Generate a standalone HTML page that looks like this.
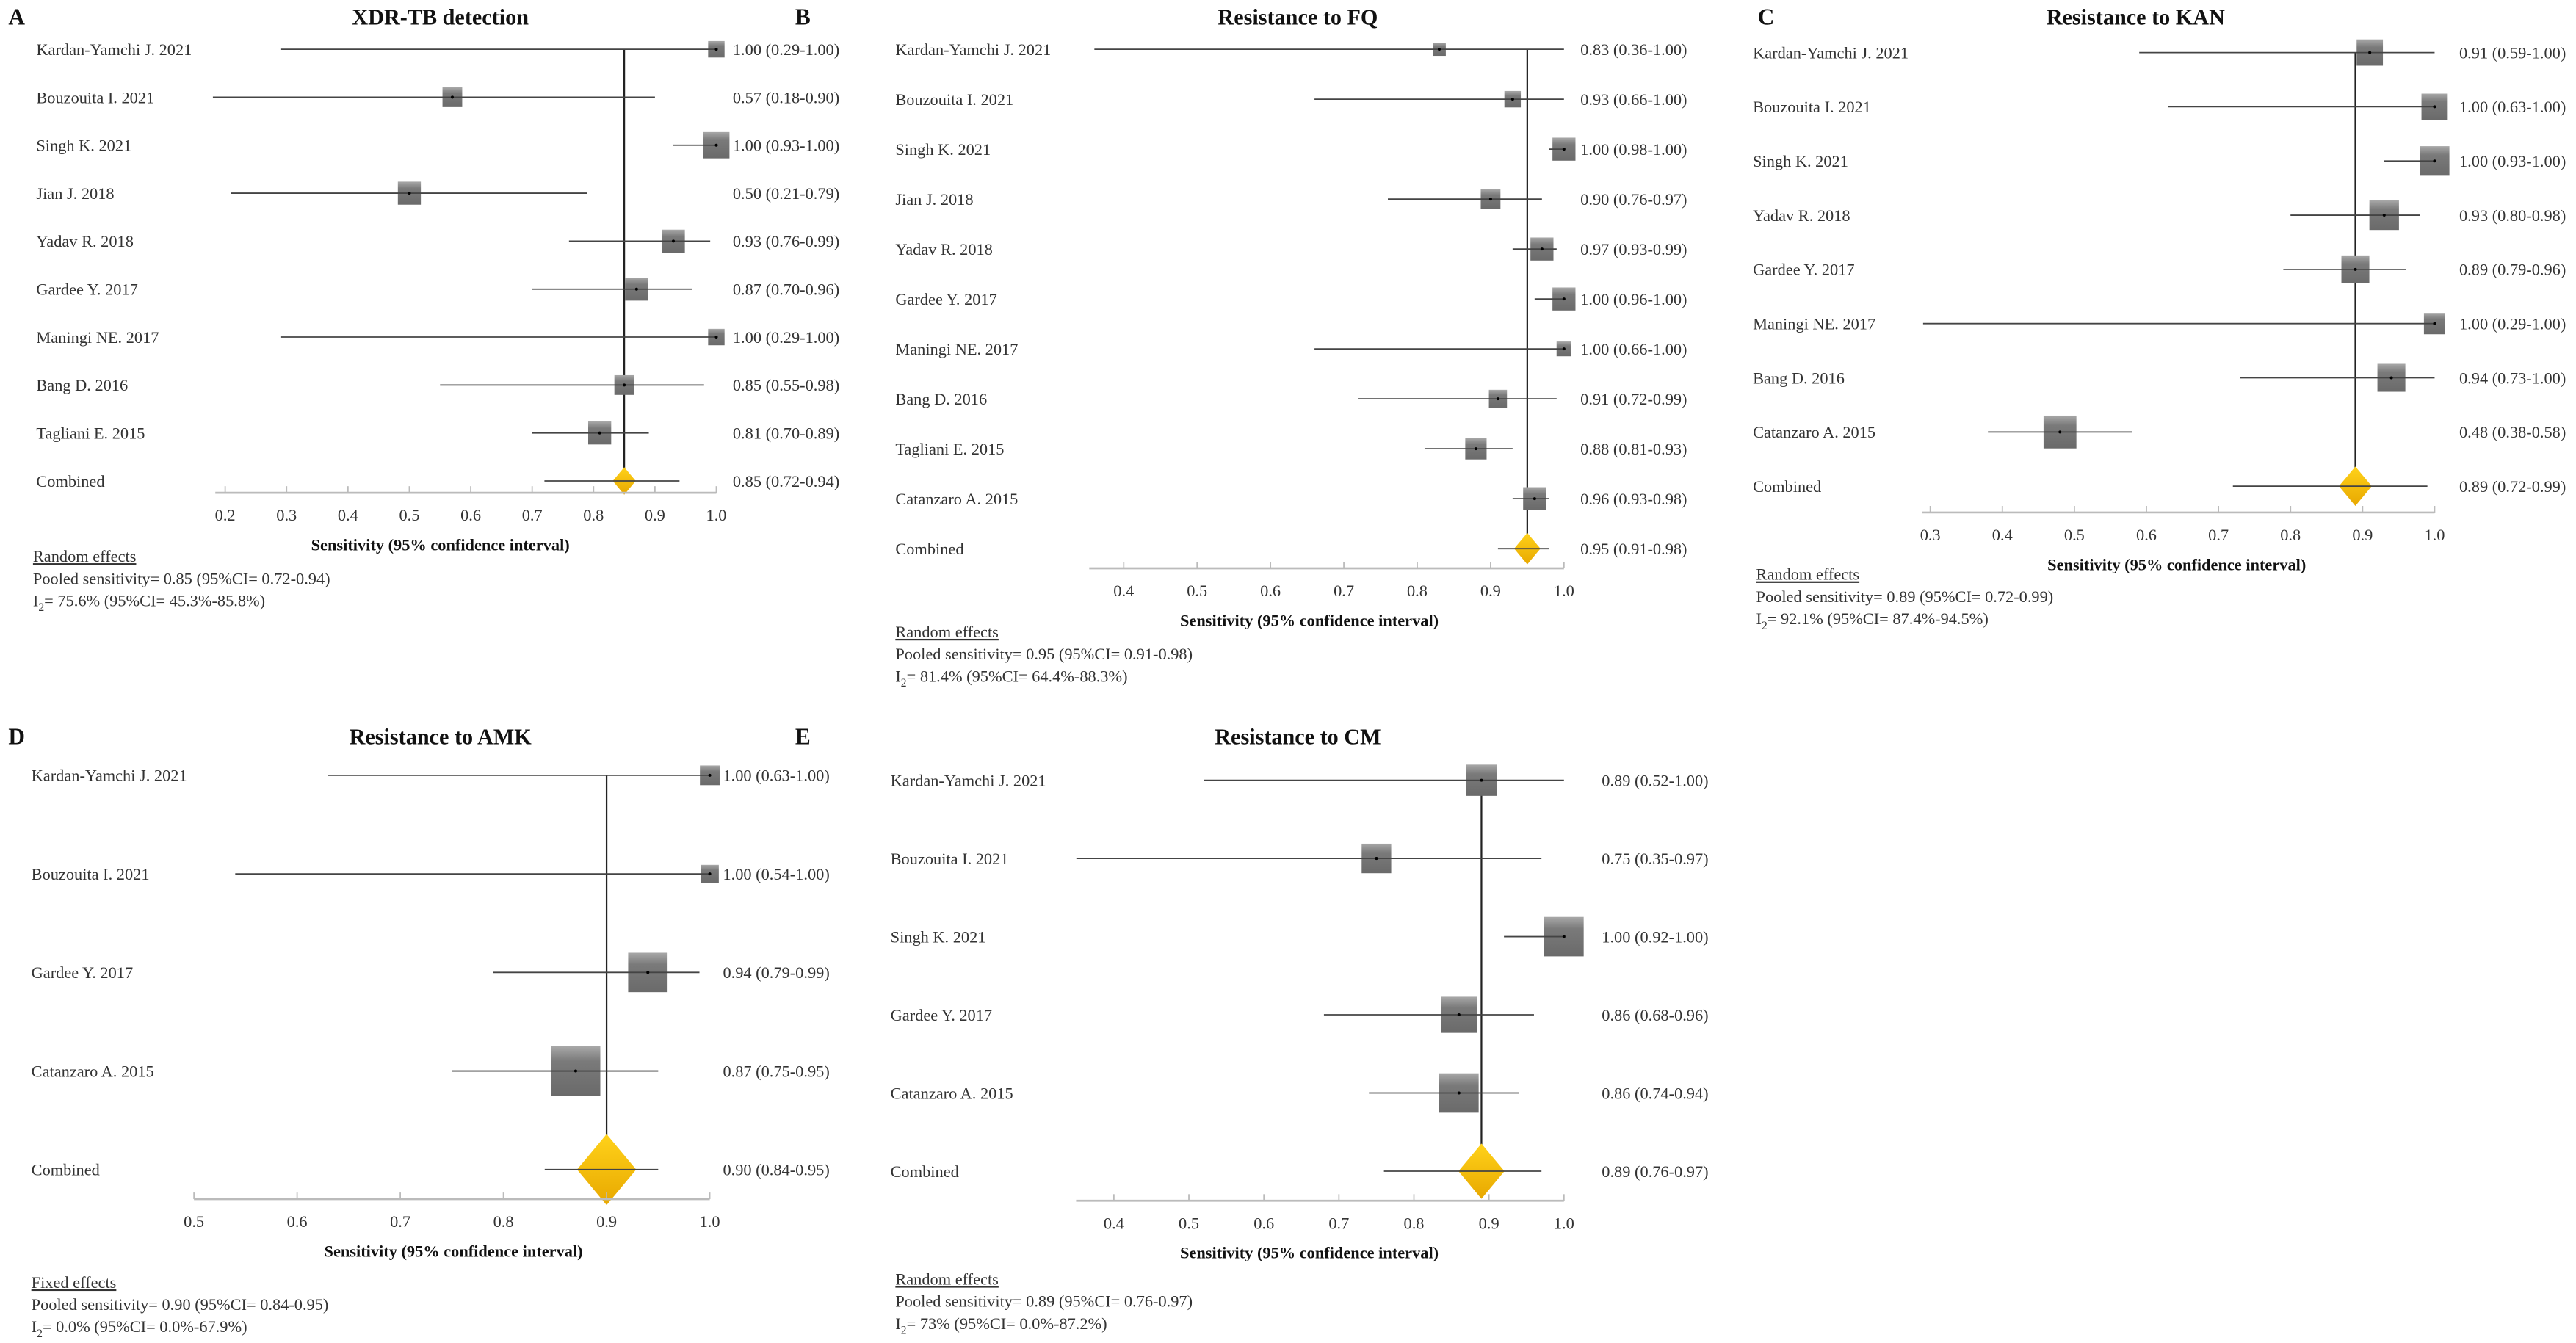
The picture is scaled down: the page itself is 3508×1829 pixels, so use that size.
<!DOCTYPE html>
<html><head><meta charset="utf-8">
<style>
html,body{margin:0;padding:0;background:#fff;}
svg{display:block;}
text{font-family:"Liberation Serif",serif;fill:#333;}
.b{font-weight:bold;fill:#111;}
</style></head>
<body>
<svg id="fig" width="3508" height="1829" viewBox="0 0 1568 817.6" xmlns="http://www.w3.org/2000/svg">
<defs>
<linearGradient id="sq" x1="0" y1="0" x2="0" y2="1">
<stop offset="0" stop-color="#a8a8a8"/><stop offset="0.3" stop-color="#7a7a7a"/><stop offset="1" stop-color="#6a6a6a"/>
</linearGradient>
<linearGradient id="dm" x1="0" y1="0" x2="0" y2="1">
<stop offset="0" stop-color="#ffd21a"/><stop offset="1" stop-color="#e8a800"/>
</linearGradient>
</defs>
</svg>
<script>
// ---- Panel A: XDR-TB detection ----
const aStudies = ["Kardan-Yamchi J. 2021","Bouzouita I. 2021","Singh K. 2021","Jian J. 2018","Yadav R. 2018","Gardee Y. 2017","Maningi NE. 2017","Bang D. 2016","Tagliani E. 2015","Combined"];
const aEst = [1.00,0.57,1.00,0.50,0.93,0.87,1.00,0.85,0.81,0.85];
const aLo  = [0.29,0.18,0.93,0.21,0.76,0.70,0.29,0.55,0.70,0.72];
const aHi  = [1.00,0.90,1.00,0.79,0.99,0.96,1.00,0.98,0.89,0.94];
const aWt  = [10,12,16,14,14,14,10,12,14,14];
const aTicks = [0.2,0.3,0.4,0.5,0.6,0.7,0.8,0.9,1.0];
// ---- Panel B: Resistance to FQ ----
const bStudies = ["Kardan-Yamchi J. 2021","Bouzouita I. 2021","Singh K. 2021","Jian J. 2018","Yadav R. 2018","Gardee Y. 2017","Maningi NE. 2017","Bang D. 2016","Tagliani E. 2015","Catanzaro A. 2015","Combined"];
const bEst = [0.83,0.93,1.00,0.90,0.97,1.00,1.00,0.91,0.88,0.96,0.95];
const bLo  = [0.36,0.66,0.98,0.76,0.93,0.96,0.66,0.72,0.81,0.93,0.91];
const bHi  = [1.00,1.00,1.00,0.97,0.99,1.00,1.00,0.99,0.93,0.98,0.98];
const bWt  = [8,10,14,12,14,14,9,11,13,14,16];
const bTicks = [0.4,0.5,0.6,0.7,0.8,0.9,1.0];
// ---- Panel C: Resistance to KAN ----
const cStudies = ["Kardan-Yamchi J. 2021","Bouzouita I. 2021","Singh K. 2021","Yadav R. 2018","Gardee Y. 2017","Maningi NE. 2017","Bang D. 2016","Catanzaro A. 2015","Combined"];
const cEst = [0.91,1.00,1.00,0.93,0.89,1.00,0.94,0.48,0.89];
const cLo  = [0.59,0.63,0.93,0.80,0.79,0.29,0.73,0.38,0.72];
const cHi  = [1.00,1.00,1.00,0.98,0.96,1.00,1.00,0.58,0.99];
const cWt  = [16,16,18,18,17,13,17,20,20];
const cTicks = [0.3,0.4,0.5,0.6,0.7,0.8,0.9,1.0];
// ---- Panel D: Resistance to AMK ----
const dStudies = ["Kardan-Yamchi J. 2021","Bouzouita I. 2021","Gardee Y. 2017","Catanzaro A. 2015","Combined"];
const dEst = [1.00,1.00,0.94,0.87,0.90];
const dLo  = [0.63,0.54,0.79,0.75,0.84];
const dHi  = [1.00,1.00,0.99,0.95,0.95];
const dWt  = [12,11,24,30,36];
const dTicks = [0.5,0.6,0.7,0.8,0.9,1.0];
// ---- Panel E: Resistance to CM ----
const eStudies = ["Kardan-Yamchi J. 2021","Bouzouita I. 2021","Singh K. 2021","Gardee Y. 2017","Catanzaro A. 2015","Combined"];
const eEst = [0.89,0.75,1.00,0.86,0.86,0.89];
const eLo  = [0.52,0.35,0.92,0.68,0.74,0.76];
const eHi  = [1.00,0.97,1.00,0.96,0.94,0.97];
const eWt  = [19,18,24,22,24,28];
const eTicks = [0.4,0.5,0.6,0.7,0.8,0.9,1.0];

const NS="http://www.w3.org/2000/svg";
const svg=document.getElementById('fig');
function el(tag,attrs,parent,txt){const e=document.createElementNS(NS,tag);for(const k in attrs)e.setAttribute(k,attrs[k]);if(txt!==undefined)e.textContent=txt;(parent||svg).appendChild(e);return e;}
function f2(v){return v.toFixed(2);}

function panel(cfg){
  const g=el('g',{});
  
  
  const x=v=>cfg.x0+(v-cfg.v0)*(cfg.x1-cfg.x0)/(1-cfg.v0);
  const y=i=>cfg.y0+i*cfg.dy;
  const n=cfg.studies.length;
  let t=el('text',{x:cfg.lx,y:cfg.ty+5,'font-size':14,class:'b'},g,cfg.letter);
  
  t=el('text',{x:cfg.tc,y:cfg.ty+5,'font-size':13.5,class:'b','text-anchor':'middle'},g,cfg.title);
  
  const pl=el('line',{x1:x(cfg.est[n-1]),x2:x(cfg.est[n-1]),y1:y(0),y2:y(n-1),stroke:'#222','stroke-width':1},g);
  
  for(let i=0;i<n;i++){
    const yy=y(i);
    let lab=el('text',{x:cfg.sx,y:yy+3.5,'font-size':10},g,cfg.studies[i]);
    
    const comb=(i===n-1);
    const w=cfg.wt[i];
    if(comb){
      const cx=x(cfg.est[i]),hw=w/2,hh=w*0.6;
      let d=el('polygon',{points:`${cx},${yy-hh} ${cx+hw},${yy} ${cx},${yy+hh} ${cx-hw},${yy}`,fill:'url(#dm)'},g);
      
    } else {
      let s=el('rect',{x:x(cfg.est[i])-w/2,y:yy-w/2,width:w,height:w,fill:'url(#sq)'},g);
      
    }
    let ci=el('line',{x1:x(cfg.lo[i]),x2:x(cfg.hi[i]),y1:yy,y2:yy,stroke:'#444','stroke-width':0.8},g);
    
    if(!comb){let dt=el('circle',{cx:x(cfg.est[i]),cy:yy,r:0.9,fill:'#000'},g);
      }
    let vt=el('text',{x:cfg.vx,y:yy+3.5,'font-size':10},g,`${f2(cfg.est[i])} (${f2(cfg.lo[i])}-${f2(cfg.hi[i])})`);
    
  }
  let ax=el('line',{x1:cfg.axStart,x2:cfg.x1,y1:cfg.ay,y2:cfg.ay,stroke:'#bbb','stroke-width':1.2},g);
  
  cfg.ticks.forEach(tv=>{
    let tk=el('line',{x1:x(tv),x2:x(tv),y1:cfg.ay,y2:cfg.ay-4,stroke:'#bbb','stroke-width':0.8},g);
    
    let tl=el('text',{x:x(tv),y:cfg.ay+17,'font-size':10,'text-anchor':'middle'},g,tv.toFixed(1));
    
  });
  let at=el('text',{x:cfg.atc,y:cfg.ay+35,'font-size':10,class:'b','text-anchor':'middle'},g,'Sensitivity (95% confidence interval)');
  
  let f1=el('text',{x:cfg.fx,y:cfg.fy,'font-size':10,'text-decoration':'underline'},g,cfg.model);
  
  let f2t=el('text',{x:cfg.fx,y:cfg.fy+13.5,'font-size':10},g,cfg.pooled);
  
  let f3=el('text',{x:cfg.fx,y:cfg.fy+27,'font-size':10},g);
  
  el('tspan',{},f3,'I');el('tspan',{'font-size':7,dy:3},f3,'2');el('tspan',{dy:-3},f3,cfg.i2);
}

panel({letter:'A',title:'XDR-TB detection',lx:5,tc:268,ty:10,studies:aStudies,est:aEst,lo:aLo,hi:aHi,wt:aWt,ticks:aTicks,
  v0:0.2,x0:137,x1:436,axStart:131,y0:30,dy:29.2,sx:22,vx:446,ay:300,atc:268,fx:20,fy:342,model:'Random effects',
  pooled:'Pooled sensitivity= 0.85 (95%CI= 0.72-0.94)',i2:'= 75.6% (95%CI= 45.3%-85.8%)'});
panel({letter:'B',title:'Resistance to FQ',lx:484,tc:790,ty:10,studies:bStudies,est:bEst,lo:bLo,hi:bHi,wt:bWt,ticks:bTicks,
  v0:0.4,x0:684,x1:952,axStart:663,y0:30,dy:30.4,sx:545,vx:962,ay:346,atc:797,fx:545,fy:388,model:'Random effects',
  pooled:'Pooled sensitivity= 0.95 (95%CI= 0.91-0.98)',i2:'= 81.4% (95%CI= 64.4%-88.3%)'});
panel({letter:'C',title:'Resistance to KAN',lx:1070,tc:1300,ty:10,studies:cStudies,est:cEst,lo:cLo,hi:cHi,wt:cWt,ticks:cTicks,
  v0:0.3,x0:1175,x1:1482,axStart:1170,y0:32,dy:33,sx:1067,vx:1497,ay:312,atc:1325,fx:1069,fy:353,model:'Random effects',
  pooled:'Pooled sensitivity= 0.89 (95%CI= 0.72-0.99)',i2:'= 92.1% (95%CI= 87.4%-94.5%)'});
panel({letter:'D',title:'Resistance to AMK',lx:5,tc:268,ty:448,studies:dStudies,est:dEst,lo:dLo,hi:dHi,wt:dWt,ticks:dTicks,
  v0:0.5,x0:118,x1:432,axStart:118,y0:472,dy:60,sx:19,vx:440,ay:730,atc:276,fx:19,fy:784,model:'Fixed effects',
  pooled:'Pooled sensitivity= 0.90 (95%CI= 0.84-0.95)',i2:'= 0.0% (95%CI= 0.0%-67.9%)'});
panel({letter:'E',title:'Resistance to CM',lx:484,tc:790,ty:448,studies:eStudies,est:eEst,lo:eLo,hi:eHi,wt:eWt,ticks:eTicks,
  v0:0.4,x0:678,x1:952,axStart:655,y0:475,dy:47.6,sx:542,vx:975,ay:731,atc:797,fx:545,fy:782,model:'Random effects',
  pooled:'Pooled sensitivity= 0.89 (95%CI= 0.76-0.97)',i2:'= 73% (95%CI= 0.0%-87.2%)'});
</script>
</body></html>
